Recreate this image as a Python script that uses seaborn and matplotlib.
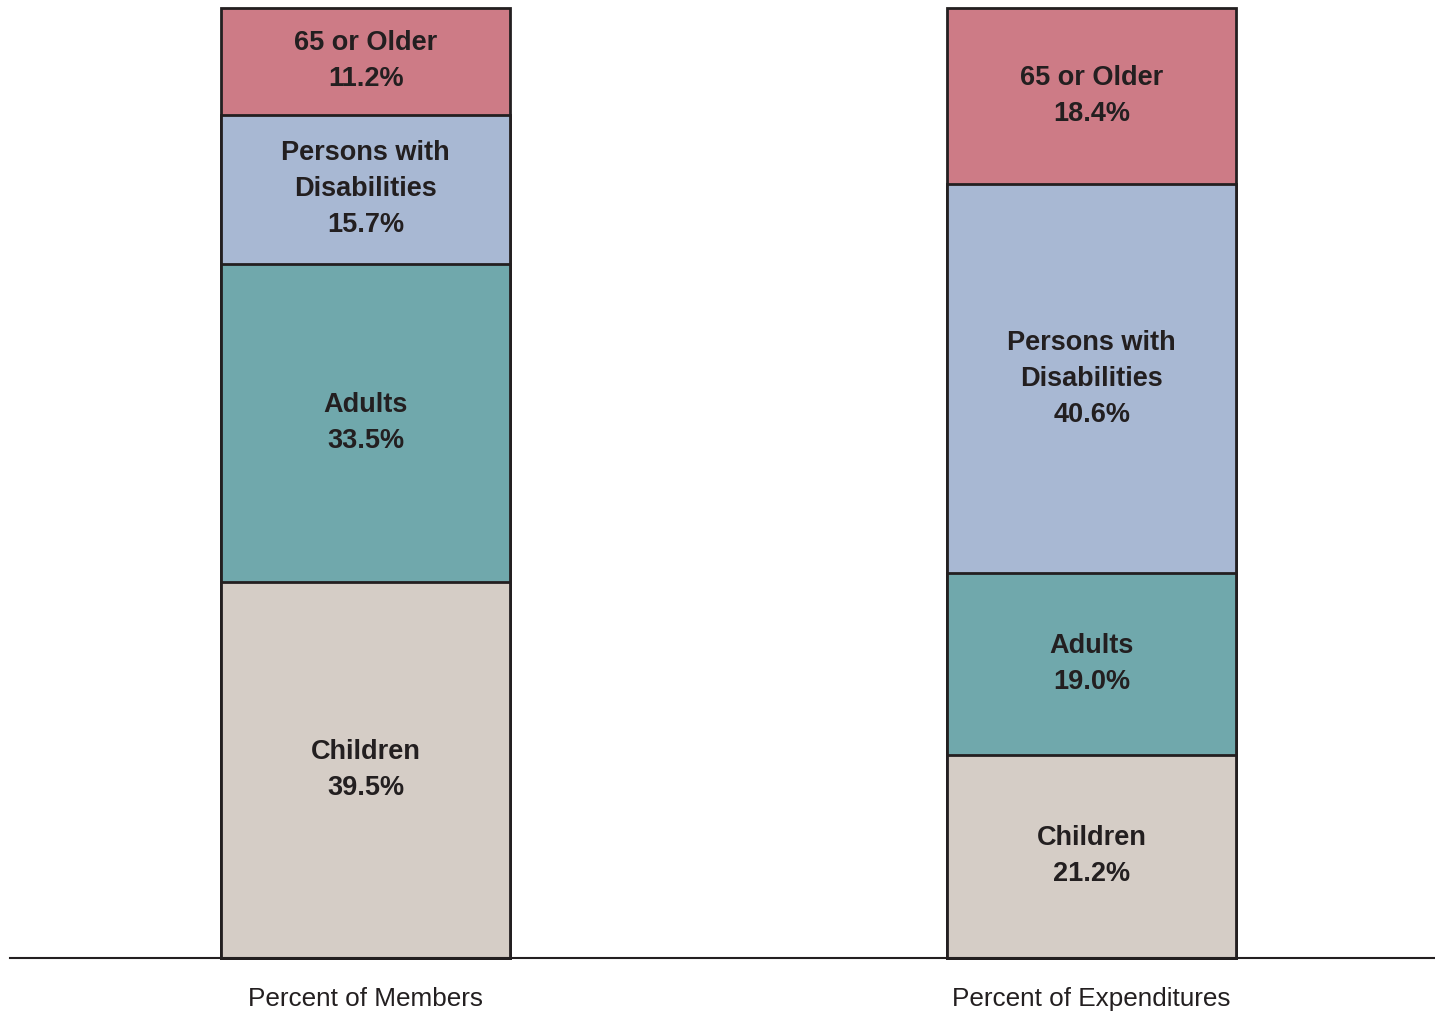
import numpy as np
import pandas as pd
import matplotlib
matplotlib.use("Agg")
import matplotlib.pyplot as plt
import seaborn as sns

# Data
bars = ["Percent of Members", "Percent of Expenditures"]
groups = ["Children", "Adults", "Persons with\nDisabilities", "65 or Older"]
members = [39.5, 33.5, 15.7, 11.2]
expenditures = [21.2, 19.0, 40.6, 18.4]
colors = ["#D5CDC6", "#70A8AC", "#A8B8D3", "#CD7B86"]

sns.set_theme(style="white")
plt.rcParams["font.family"] = ["Liberation Sans", "DejaVu Sans"]

vals = np.array([members, expenditures], dtype=float)  # shape (2, 4)
share = vals / vals.sum(axis=1, keepdims=True) * 100
cum = np.cumsum(share, axis=1)

fig = plt.figure(figsize=(14.35, 10.11), dpi=100)
ax = fig.add_axes([10 / 1435, (1011 - 958) / 1011, 1 - 10 / 1435, 950 / 1011])

# draw from top layer down so each lower layer overlays
for k in range(len(groups) - 1, -1, -1):
    df = pd.DataFrame({"bar": bars, "value": cum[:, k]})
    sns.barplot(data=df, x="bar", y="value", color=colors[k], width=0.398,
                edgecolor="#231F20", linewidth=2.0, saturation=1, ax=ax,
                order=bars)

for p in ax.patches:
    p.set_clip_on(False)

for i in range(len(bars)):
    for k, g in enumerate(groups):
        bottom = cum[i, k] - share[i, k]
        mid = bottom + share[i, k] / 2
        ax.text(i, mid, f"{g}\n{vals[i, k]:.1f}%", ha="center", va="center",
                fontsize=19.5, fontweight="bold", color="#231F20",
                linespacing=1.5)

ax.set_ylim(0, 100)
ax.set_xlim(-0.49, 1.473)
ax.set_xlabel("")
ax.set_ylabel("")
ax.set_yticks([])
for s in ["left", "right", "top"]:
    ax.spines[s].set_visible(False)
ax.spines["bottom"].set_color("#231F20")
ax.spines["bottom"].set_linewidth(1.5)
ax.tick_params(axis="x", length=0, pad=21, labelsize=18.8, colors="#231F20")

fig.savefig("out.png", dpi=100, facecolor="white")
